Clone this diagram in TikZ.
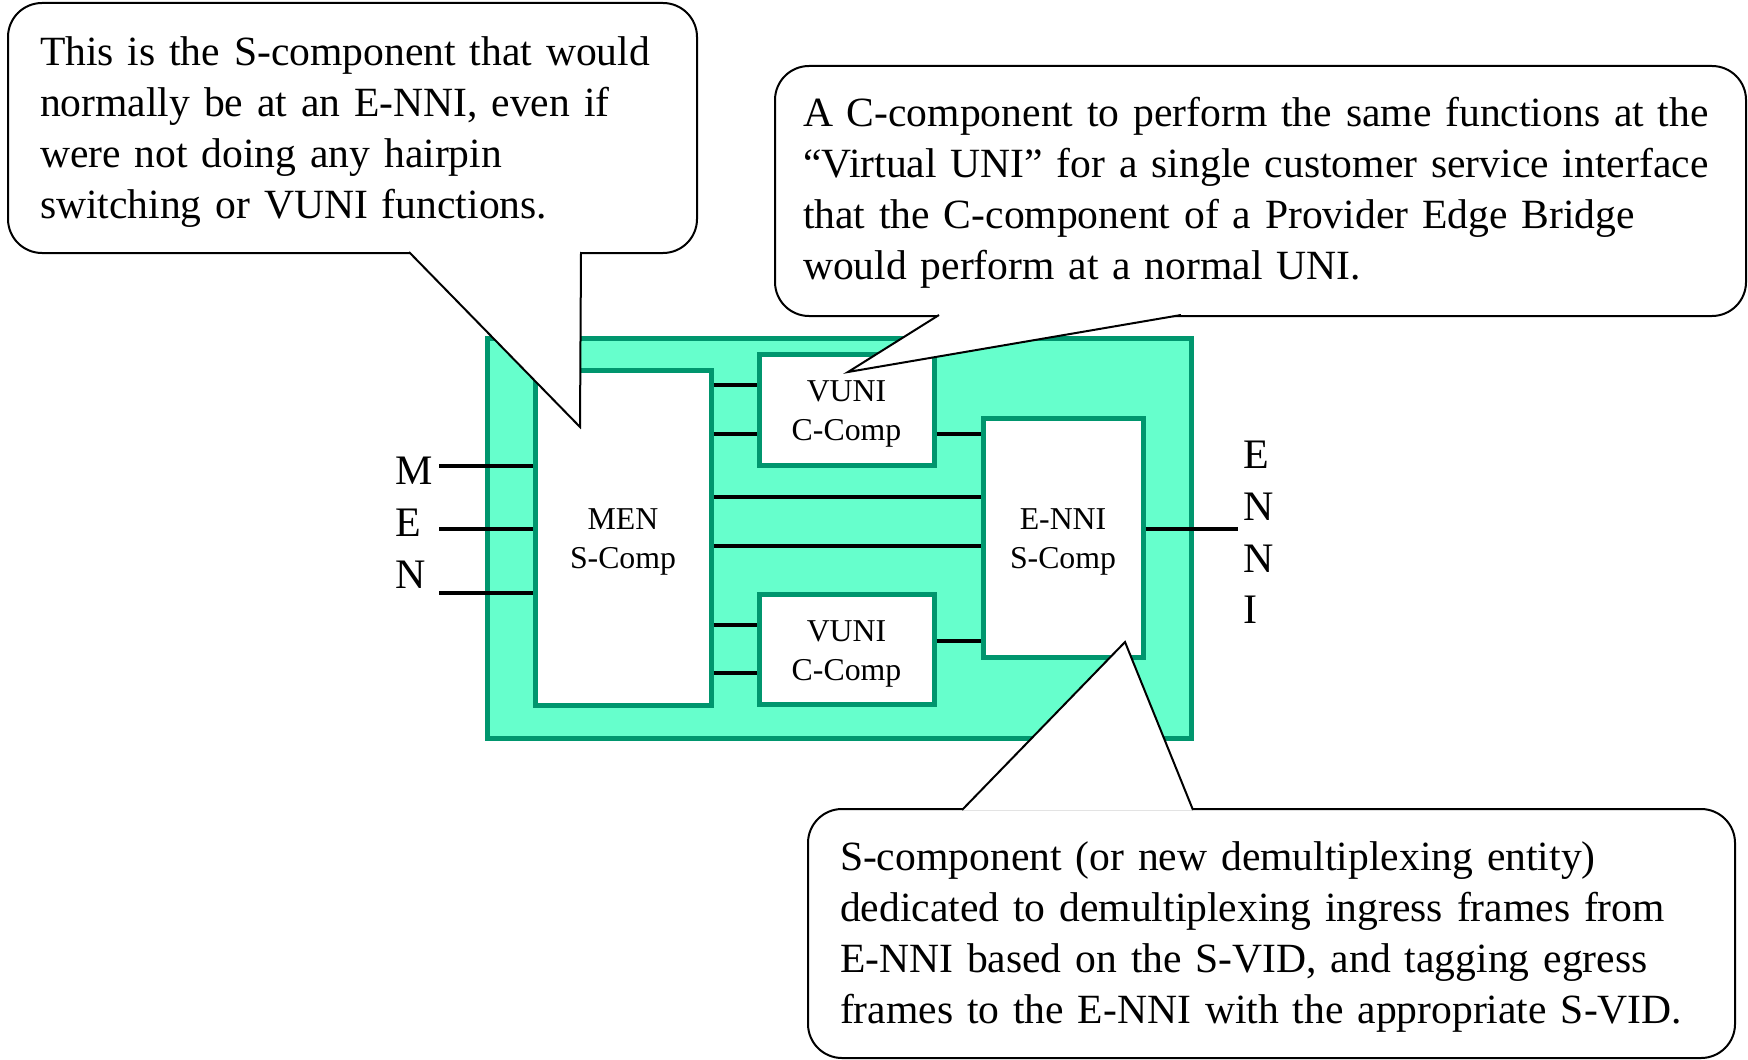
\documentclass[tikz,border=0pt]{standalone}
\usepackage{fontspec}
\setmainfont{Liberation Serif}
\usetikzlibrary{positioning,calc}
\definecolor{bridgefill}{HTML}{66FFCC}
\definecolor{bridgeedge}{RGB}{0,150,110}
\hyphenpenalty=10000\relax

\begin{document}
\begin{tikzpicture}[x=0.5pt, y=-0.5pt,
				bridge/.style={rectangle, draw=bridgeedge, fill=bridgefill, line width=2.5pt, minimum width=352pt, minimum height=200pt},
				comp/.style={rectangle, draw=bridgeedge, fill=white, line width=2.5pt, align=center, inner sep=0pt, font=\fontsize{15.9}{19.5}\selectfont},
				wire/.style={black, line width=2pt},
				letter/.style={inner sep=0pt, text height=18pt, text depth=7.5pt, font=\fontsize{21}{25.5}\selectfont},
				note/.style={rectangle, draw=black, fill=white, line width=1pt, rounded corners=17pt, align=left, anchor=north west, inner ysep=0pt, font=\fontsize{20.8}{25.5}\selectfont},
				pointer/.style={draw=black, fill=white, line width=1pt}
			]
			\useasboundingbox (0,0) rectangle (1748,1059);
			\node[bridge] (bridge) at (839,538) {};
			\node[comp, minimum width=88pt, minimum height=167.5pt] (menS) at (623,537.5) {\rule{0pt}{15pt}MEN\\S-Comp};
			\node[comp, minimum width=87.5pt, minimum height=55.5pt] (vuniA) at (846.5,409.5) {\rule{0pt}{15pt}VUNI\\C-Comp};
			\node[comp, minimum width=87.5pt, minimum height=55pt] (vuniB) [below=62pt of vuniA] {\rule{0pt}{15pt}VUNI\\C-Comp};
			\node[comp, minimum width=80pt, minimum height=119.5pt] (enniS) [right=133.5pt of menS] {\rule{0pt}{15pt}E-NNI\\S-Comp};
			\coordinate (menPortA) at (439,466);
			\coordinate (menPortB) at (439,529);
			\coordinate (menPortC) at (439,593);
			\coordinate (enniPort) at (1238,529);
			\begin{scope}[wire]
			\draw (menPortA) -- (menPortA -| menS.west);
			\draw (menPortB) -- (menPortB -| menS.west);
			\draw (menPortC) -- (menPortC -| menS.west);
			\draw (vuniA.165 -| menS.east) -- (vuniA.165);
			\draw (vuniA.195 -| menS.east) -- (vuniA.195);
			\draw (vuniB.165 -| menS.east) -- (vuniB.165);
			\draw (vuniB.195 -| menS.east) -- (vuniB.195);
			\draw (enniS.154 -| menS.east) -- (enniS.154);
			\draw (enniS.186 -| menS.east) -- (enniS.186);
			\draw (vuniA.-15) -- (vuniA.-15 -| enniS.west);
			\draw (vuniB.5) -- (vuniB.5 -| enniS.west);
			\draw (enniS.east |- enniPort) -- (enniPort);
			\end{scope}
			\node[letter, anchor=north west] (menM) at (395,448) {M};
			\node[letter, below=0pt of menM.south west, anchor=north west] (menE) {E};
			\node[letter, below=0pt of menE.south west, anchor=north west] (menN) {N};
			\node[letter, anchor=north west] (enniE) at (1243,432) {E};
			\node[letter, below=0pt of enniE.south west, anchor=north west] (enniN) {N};
			\node[letter, below=0pt of enniN.south west, anchor=north west] (enniNb) {N};
			\node[letter, below=0pt of enniNb.south west, anchor=north west] (enniI) {I};
			\node[note, inner xsep=16pt, text width=312.5pt, minimum height=125pt] (noteS) at (7,2) {\rule{0pt}{18pt}This is the S-component that would\\normally be at an E-NNI, even if\\were not doing any hairpin\\switching or VUNI functions.};
			\node[note, inner xsep=14pt, text width=457.5pt, minimum height=125pt] (noteC) at (774,65) {\rule{0pt}{16pt}A C-component to perform the same functions at the\\“Virtual UNI” for a single customer service interface\\that the C-component of a Provider Edge Bridge\\would perform at a normal UNI.};
			\node[note, inner xsep=16pt, text width=431.5pt, minimum height=124.5pt] (noteD) at (807,808) {\rule{0pt}{18pt}S-component (or new demultiplexing entity)\\dedicated to demultiplexing ingress frames from\\E-NNI based on the S-VID, and tagging egress\\frames to the E-NNI with the appropriate S-VID.};
			\coordinate (tipS) at (580,427);
			\coordinate (tipC) at (848,372);
			\coordinate (tipD) at (1125,642);
			\path[pointer] ($(noteS.south west)+(402,-2)$) -- (tipS) -- ($(noteS.south west)+(574,-2)$);
			\path[pointer] ($(noteC.south west)+(165,-2)$) -- (tipC) -- ($(noteC.south west)+(407,-2)$);
			\path[pointer] ($(noteD.north west)+(155,2)$) -- (tipD) -- ($(noteD.north west)+(386,2)$);
			\end{tikzpicture}
\end{document}
